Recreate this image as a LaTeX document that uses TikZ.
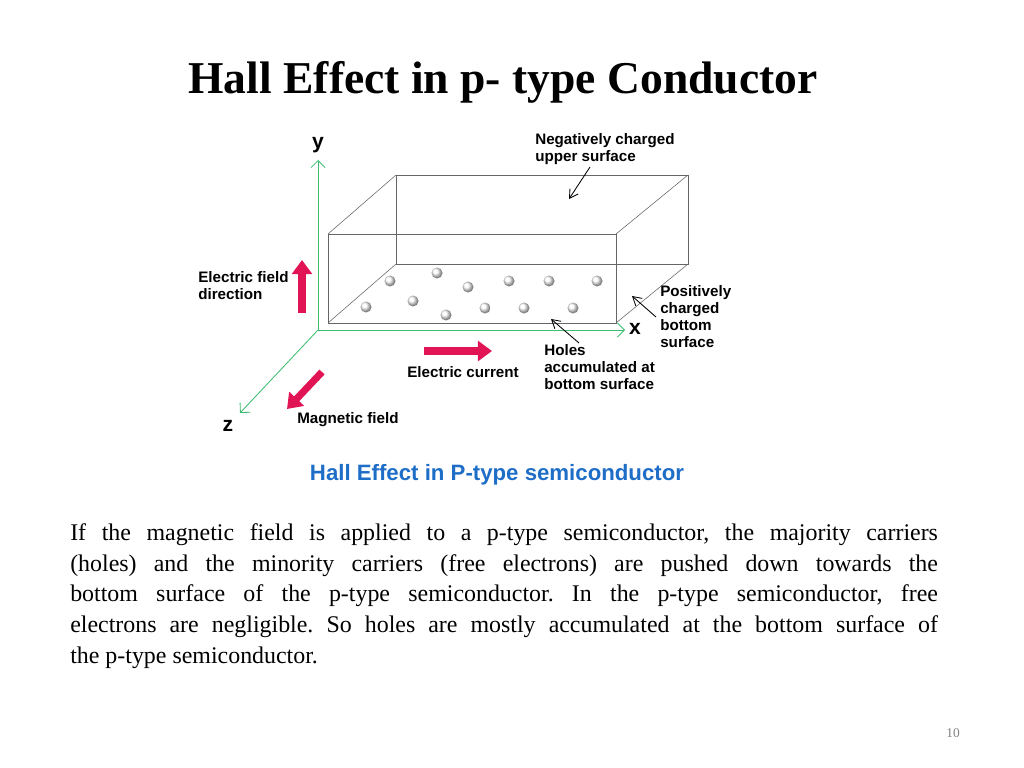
\documentclass[tikz,border=0pt]{standalone}
\usepackage{fontspec}
\setmainfont{Liberation Serif}
\setsansfont{Liberation Sans}
\usetikzlibrary{arrows.meta}
\definecolor{axisgreen}{RGB}{60,190,110}
\definecolor{bigred}{RGB}{225,20,85}
\definecolor{capblue}{RGB}{30,110,200}
\tikzset{
  lab/.style={font=\sffamily\bfseries\fontsize{10.8}{12.2}\selectfont, align=left, inner sep=0pt},
  axis/.style={axisgreen, semithick, -{Straight Barb[length=5pt]}},
  bigarrow/.style={bigred, line width=5pt, -{Triangle[length=10pt,width=14pt]}},
  note/.style={black, semithick, -{Straight Barb[length=6pt,width=7pt]}},
  hole/.style={ball color=white, shading=ball}
}
\begin{document}
\begin{tikzpicture}[x=0.025cm,y=-0.025cm]
            \useasboundingbox (0,0) rectangle (1024,768);

            % Title
            \node (title) at (503,82) {\fontsize{32.4}{38}\selectfont\bfseries Hall Effect in p- type Conductor};

            % Axes
            \coordinate (o) at (318,330);
            \coordinate (ytip) at (318,160);
            \coordinate (xtip) at (625,330);
            \coordinate (ztip) at (240,413);
            \draw[axis] (o) -- (ytip);
            \draw[axis] (o) -- (xtip);
            \draw[axis] (o) -- (ztip);
            \node[lab, font=\sffamily\bfseries\fontsize{15}{15}\selectfont] (ylab) at (318,145) {y};
            \node[lab, font=\sffamily\bfseries\fontsize{15}{15}\selectfont] (xlab) at (635,329) {x};
            \node[lab, font=\sffamily\bfseries\fontsize{15}{15}\selectfont] (zlab) at (228,426) {z};

            % The box
            \draw[gray!80!black] (328,234) rectangle (616,323);
            \draw[gray!80!black] (396,175) rectangle (688,264);
            \foreach \a/\b in {328/396, 616/688} {
                \draw[gray!80!black] (\a,234) -- (\b,175);
                \draw[gray!80!black] (\a,323) -- (\b,264);
            }

            % Holes
            \foreach \px/\py in {390/281, 437/273, 468/287, 509/281, 549/281, 597/281,
                                 366/307, 413/301, 446/315, 485/308, 524/308, 573/308} {
                \shade[hole] (\px,\py) circle (5.5);
            }

            % Red arrows
            \draw[bigarrow] (302,313) -- (302,260);
            \draw[bigarrow] (424,351) -- (492,351);
            \draw[bigarrow] (322,372) -- (287,409);

            % Labels
            \node[lab, anchor=north west] (neg) at (535,133) {Negatively charged\\upper surface};
            \node[lab, anchor=north west] (efield) at (198,271) {Electric field\\direction};
            \node[lab] (current) at (463,372) {Electric current};
            \node[lab, anchor=north west] (holes) at (544,344) {Holes\\accumulated at\\bottom surface};
            \node[lab, anchor=north west] (pos) at (660,285) {Positively\\charged\\bottom\\surface};
            \node[lab, anchor=west] (mag) at (297,420) {Magnetic field};

            \coordinate (negtip) at (569,199);
            \coordinate (postip) at (632,296);
            \coordinate (holtip) at (551,319);
            \draw[note] (590,167) -- (negtip);
            \draw[note] (656,317) -- (postip);
            \draw[note] (579,343) -- (holtip);

            % Caption
            \node[capblue, font=\sffamily\bfseries\fontsize{15.8}{18}\selectfont] (caption) at (497,475) {Hall Effect in P-type semiconductor};

            % Paragraph
            \node[anchor=north west, inner sep=0pt, text width=617pt, align=justify,
                  font=\frenchspacing\fontsize{17}{22}\selectfont] (para) at (70,523) {If the magnetic field is applied to a p-type semiconductor, the majority carriers\linebreak (holes) and the minority carriers (free electrons) are pushed down towards the\linebreak bottom surface of the p-type semiconductor. In the p-type semiconductor, free\linebreak electrons are negligible. So holes are mostly accumulated at the bottom surface of\linebreak the p-type semiconductor.};

            % Page number
            \node[gray, font=\fontsize{9.5}{11}\selectfont] (page) at (953,733) {10};
\end{tikzpicture}
\end{document}
